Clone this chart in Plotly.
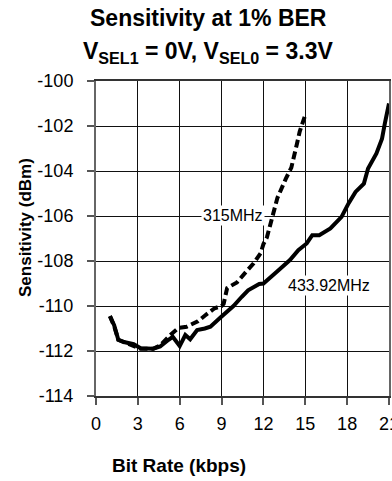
import plotly.graph_objects as go

# 433.92 MHz (solid)
rate_433 = [1.0, 1.3, 1.6, 2.0, 2.7, 3.2, 4.1, 4.6, 5.2, 5.5, 6.0, 6.4, 6.75, 7.25, 7.8, 8.2, 8.9,
            9.85, 10.45, 10.9, 11.7, 12.0, 12.96, 13.9, 14.5, 15.1, 15.5, 16.0, 16.8, 17.6, 18.1,
            18.6, 19.2, 19.5, 20.1, 20.5, 20.7, 21.0]
sens_433 = [-110.45, -110.85, -111.5, -111.6, -111.7, -111.88, -111.9, -111.8, -111.5, -111.37,
            -111.78, -111.29, -111.48, -111.07, -111.0, -110.92, -110.52, -110.0, -109.59, -109.3,
            -109.02, -109.0, -108.48, -107.96, -107.52, -107.22, -106.85, -106.85, -106.55,
            -106.04, -105.44, -104.93, -104.56, -103.89, -103.22, -102.56, -101.89, -101.0]

# 315 MHz (dashed)
rate_315 = [1.0, 1.3, 1.6, 2.0, 2.7, 3.2, 4.1, 4.6, 5.3, 5.9, 6.5, 7.3, 7.9, 8.5, 9.0, 9.15, 9.4,
            10.1, 10.8, 11.3, 11.8, 12.0, 12.25, 12.6, 13.0, 13.6, 14.0, 14.4, 14.6, 15.0]
sens_315 = [-110.45, -110.9, -111.5, -111.6, -111.75, -111.9, -111.9, -111.75, -111.3, -110.98,
            -110.92, -110.68, -110.38, -110.1, -110.0, -109.9, -109.2, -108.95, -108.45, -108.1,
            -107.65, -107.25, -106.95, -106.1, -105.2, -104.35, -103.85, -102.8, -102.25, -101.5]

x_ticks = [0, 3, 6, 9, 12, 15, 18, 21]
y_ticks = [-100, -102, -104, -106, -108, -110, -112, -114]

FONT = "Liberation Sans, Arial, sans-serif"

fig = go.Figure()
fig.add_trace(go.Scatter(x=rate_433, y=sens_433, mode="lines",
                         line=dict(color="black", width=4), showlegend=False))
fig.add_trace(go.Scatter(x=rate_315, y=sens_315, mode="lines",
                         line=dict(color="black", width=4, dash="8px,4px"), showlegend=False))

W, H = 392, 481
L, R, T, B = 96, 3, 81, 85
pw, ph = W - L - R, H - T - B


def px(x):
    return (x - L) / pw


def py(y):
    return (H - B - y) / ph


fig.update_layout(
    width=W, height=H,
    margin=dict(l=L, r=R, t=T, b=B, pad=0, autoexpand=False),
    paper_bgcolor="white", plot_bgcolor="white",
    font=dict(family=FONT, color="black"),
    xaxis=dict(range=[0, 21], tickvals=x_ticks, ticktext=[str(v) for v in x_ticks],
               showgrid=True, gridcolor="#111", gridwidth=1, zeroline=False,
               showline=True, linecolor="#333", linewidth=1.5, mirror=True,
               ticks="outside", ticklen=7, tickcolor="#555", tickwidth=1.5,
               tickfont=dict(size=18, family=FONT), ticklabelstandoff=4,
               ticklabeloverflow="allow", automargin=False),
    yaxis=dict(range=[-114, -100], tickvals=y_ticks, ticktext=[str(v) for v in y_ticks],
               showgrid=True, gridcolor="#111", gridwidth=1, zeroline=False,
               showline=True, linecolor="#666", linewidth=2, mirror=True,
               ticks="outside", ticklen=7, tickcolor="#555", tickwidth=1.5,
               tickfont=dict(size=18, family=FONT), ticklabelstandoff=10,
               automargin=False),
)

ann = [
    dict(text="<b>Sensitivity at 1% BER</b>", x=px(208), y=py(18), font=dict(size=23)),
    dict(text="<b>V<sub>SEL1</sub> = 0V, V<sub>SEL0</sub> = 3.3V</b>", x=px(208), y=py(52),
         font=dict(size=23)),
    dict(text="<b>Bit Rate (kbps)</b>", x=px(179), y=py(465), font=dict(size=19)),
    dict(text="<b>Sensitivity (dBm)</b>", x=px(25), y=py(228), font=dict(size=17), textangle=-90),
]
for a in ann:
    fig.add_annotation(xref="paper", yref="paper", showarrow=False,
                       xanchor="center", yanchor="middle", **a)

fig.add_annotation(x=9.83, y=-105.96, xref="x", yref="y", text="315MHz", showarrow=False,
                   font=dict(size=16, family=FONT), bgcolor="white", borderpad=1)
fig.add_annotation(x=16.7, y=-109.07, xref="x", yref="y", text="433.92MHz", showarrow=False,
                   font=dict(size=16, family=FONT), bgcolor="white", borderpad=1)

fig.write_html("out.html")
